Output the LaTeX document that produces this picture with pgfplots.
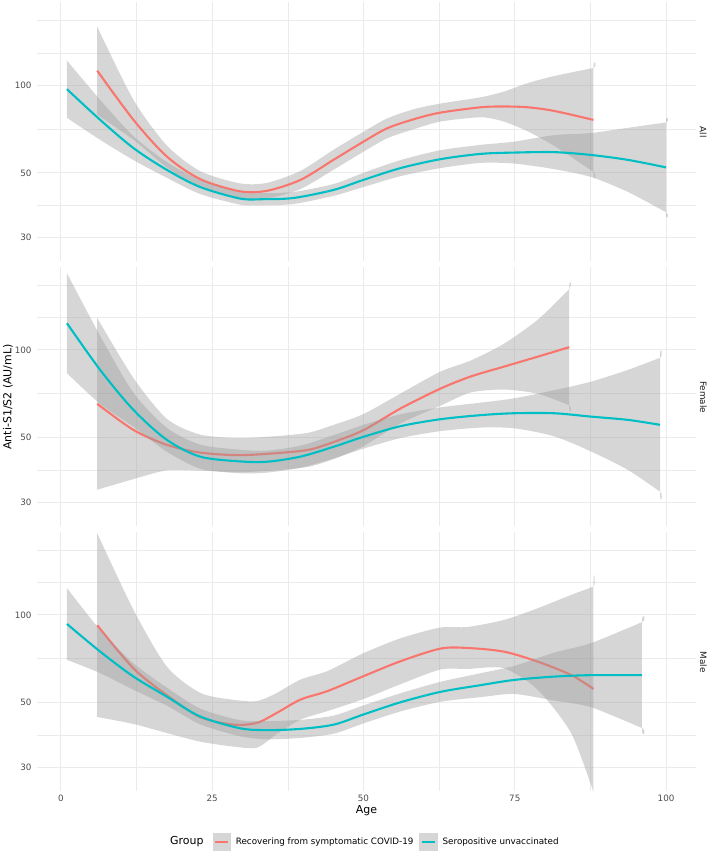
\documentclass[border=0pt]{standalone}
\usepackage{fontspec}
\setmainfont{DejaVu Sans}
\usepackage{pgfplots}
\usepackage{pgfplotstable}
\pgfplotsset{compat=1.18}
\definecolor{redc}{HTML}{F8766D}
\definecolor{tealc}{HTML}{00BFC4}
\definecolor{gridc}{HTML}{EBEBEB}
\definecolor{tickc}{HTML}{4D4D4D}
\definecolor{stripc}{HTML}{1A1A1A}
\definecolor{bandc}{HTML}{D6D6D6}
\definecolor{bandbase}{HTML}{999999}

% ---- fitted curves (age, fitted value) ----
\pgfplotstableread{
x y
1 96.9
6.5 76.0
12 60.8
17.5 51.2
23 44.7
29.6 40.8
33.5 40.6
38.5 41.0
45.1 43.7
50 47.3
56.1 51.9
62.7 55.7
69.4 58.1
74.9 58.7
81.5 58.9
87.6 57.6
93.7 55.4
100 52.2
}\allT
\pgfplotstableread{
x y
6 112.2
12 76.0
17.5 56.9
23 47.6
29.6 43.2
34.1 43.4
39.6 47.3
45.1 55.5
50 64.0
53.9 71.1
58.3 76.4
62.7 80.5
69.4 84.0
73.2 84.5
77.1 84.0
81.5 81.6
88 76.0
}\allR
\pgfplotstableread{
x y
1 123.5
6.5 85.3
12 62.2
17.5 49.1
23 43.0
29.6 41.4
34.1 41.3
39.6 43.0
45.1 46.5
50 50.3
56.1 54.7
62.7 57.8
69.4 59.7
74.9 60.6
81.5 60.6
87.6 59.0
93.7 57.5
99 55.3
}\femT
\pgfplotstableread{
x y
6 65.3
12 53.1
17.5 47.2
23 44.4
29.6 43.5
36.8 44.4
41.2 45.5
45.1 48.3
50 53.0
56.1 62.9
62.7 73.6
67.7 81.0
73.2 87.6
78.8 94.8
84 102.2
}\femR
\pgfplotstableread{
x y
1 93.1
6.5 74.8
12 61.4
17.5 52.4
23 44.8
29.6 40.8
34.1 40.2
39.6 40.6
45.1 42.0
50 45.5
56.1 50.1
62.7 54.4
69.4 57.4
74.9 59.8
81.5 61.4
87.6 62.1
96 62.1
}\malT
\pgfplotstableread{
x y
6 92.2
12 65.5
17.5 53.0
23 44.6
28.5 42.0
32.4 42.6
35.7 46.1
39.6 51.2
44 54.7
50 61.6
56.1 69.3
62.7 76.6
67.2 77.0
73.2 74.8
78.8 69.1
84.3 62.2
88 55.7
}\malR

% ---- 95% bands: upper bound left to right, then lower bound right to left ----
\pgfplotstableread{
x b
1 121.5
6.5 89.0
12 66.8
17.5 54.5
23 47.2
29.6 42.8
33.5 42.6
38.5 43.0
45.1 45.8
50 50.0
56.1 55.3
62.7 59.8
69.4 62.4
74.9 64.0
81.5 67.4
87.6 68.5
93.7 71.4
100 74.5
100 74.5
100 36.6
100 36.6
93.7 43.0
87.6 48.4
81.5 51.5
74.9 53.8
69.4 54.1
62.7 51.9
56.1 48.7
50 44.7
45.1 41.7
38.5 39.1
33.5 38.7
29.6 38.9
23 42.3
17.5 48.1
12 55.3
6.5 64.9
1 77.3
}\allTb
\pgfplotstableread{
x b
6 158.9
12 89.0
17.5 62.1
23 50.7
29.6 46.0
34.1 46.2
39.6 50.8
45.1 60.1
50 69.2
53.9 76.9
58.3 82.7
62.7 86.5
69.4 90.9
73.2 95.1
77.1 101.6
81.5 107.5
88 114.6
88 114.6
88 50.4
88 50.4
81.5 61.9
77.1 69.5
73.2 75.0
69.4 77.6
62.7 75.0
58.3 70.6
53.9 65.7
50 59.1
45.1 51.3
39.6 44.0
34.1 40.8
29.6 40.6
23 44.7
17.5 52.2
12 64.9
6 79.2
}\allRb
\pgfplotstableread{
x b
1 183.4
6.5 111.6
12 71.2
17.5 54.0
23 47.3
29.6 45.4
34.1 45.1
39.6 46.9
45.1 51.0
50 55.3
56.1 60.1
62.7 63.5
69.4 65.9
74.9 68.2
81.5 72.7
87.6 77.8
93.7 85.4
99 93.9
99 93.9
99 32.6
99 32.6
93.7 38.7
87.6 44.8
81.5 50.5
74.9 53.8
69.4 54.1
62.7 52.6
56.1 49.8
50 45.8
45.1 42.4
39.6 39.4
34.1 37.9
29.6 37.7
23 39.1
17.5 44.7
12 54.4
6.5 65.2
1 83.2
}\femTb
\pgfplotstableread{
x b
6 128.8
12 80.0
17.5 58.0
23 51.2
29.6 49.8
36.8 50.8
41.2 52.1
45.1 55.3
50 60.2
56.1 70.8
62.7 84.2
67.7 91.9
73.2 105.0
78.8 127.0
84 161.7
84 161.7
84 64.6
84 64.6
78.8 70.7
73.2 73.1
67.7 71.4
62.7 64.3
56.1 55.9
50 46.7
45.1 42.2
41.2 39.8
36.8 38.8
29.6 38.0
23 38.5
17.5 38.6
12 36.0
6 33.1
}\femRb
\pgfplotstableread{
x b
1 123.7
6.5 88.7
12 68.2
17.5 56.3
23 47.7
29.6 43.5
34.1 43.2
39.6 43.6
45.1 45.1
50 48.9
56.1 53.8
62.7 58.9
69.4 63.1
74.9 66.8
81.5 74.2
87.6 80.0
96 94.4
96 94.4
96 40.9
96 40.9
87.6 48.2
81.5 50.8
74.9 53.5
69.4 52.2
62.7 50.3
56.1 46.6
50 42.4
45.1 39.1
39.6 37.8
34.1 37.4
29.6 38.3
23 42.1
17.5 48.8
12 55.3
6.5 63.1
1 70.1
}\malTb
\pgfplotstableread{
x b
6 190.8
12 104.0
17.5 66.5
23 54.0
28.5 51.1
32.4 50.6
35.7 54.0
39.6 60.0
44 64.1
50 73.9
56.1 83.1
62.7 90.5
67.2 90.9
73.2 96.1
78.8 105.4
84.3 117.1
88 125.1
88 125.1
88 24.7
88 24.7
84.3 39.3
78.8 55.3
73.2 65.6
67.2 65.2
62.7 64.9
56.1 57.8
50 51.4
44 46.7
39.6 43.7
35.7 39.0
32.4 35.0
28.5 35.3
23 36.7
17.5 39.3
12 42.2
6 44.6
}\malRb

\pgfplotsset{
  facetaxis/.style={
    width=659bp, height=259bp, scale only axis,
    xmin=-3.95, xmax=104.95,
    ymin=24.8, ymax=192.4,
    xtick={0,25,50,75,100}, minor xtick={12.5,37.5,62.5,87.5},
    ytick={30,50,100,166.67}, yticklabels={30,50,100,},
    minor ytick={38.73,70.71,129.1},
    grid=both,
    major grid style={color=gridc, line width=1.07bp},
    minor grid style={color=gridc, line width=0.53bp},
    axis line style={draw=none},
    major tick length=0pt, minor tick length=0pt,
    tick style={draw=none},
    tick label style={font=\fontsize{8.8}{10}\selectfont, text=tickc},
    yticklabel style={anchor=east, inner sep=0pt, xshift=-5.3bp},
    xticklabel style={anchor=north, inner sep=0pt, yshift=-3.6bp},
    /pgf/number format/assume math mode=true,
  }
}

\newcommand{\smoothband}[3]{%
  \addplot[fill=bandbase, fill opacity=0.4, draw=none, smooth, tension=0.45, forget plot] table[x index=0, y index=1]{#2};
  \addplot[#3, line width=2.1bp, smooth, forget plot] table[x index=0, y index=1]{#1};
}

\begin{document}
\begin{tikzpicture}
\path[use as bounding box] (0,0) rectangle (709bp,-853bp);

\begin{semilogyaxis}[facetaxis, at={(37bp,-2.5bp)}, anchor=north west, xticklabels={}]
\smoothband{\allR}{\allRb}{redc}
\smoothband{\allT}{\allTb}{tealc}
\end{semilogyaxis}

\begin{semilogyaxis}[facetaxis, at={(37bp,-267.2bp)}, anchor=north west, xticklabels={}]
\smoothband{\femR}{\femRb}{redc}
\smoothband{\femT}{\femTb}{tealc}
\end{semilogyaxis}

\begin{semilogyaxis}[facetaxis, at={(37bp,-532.2bp)}, anchor=north west,
  legend columns=2,
  legend style={at={(0.2666,-0.196)}, anchor=west, draw=none, fill=none,
    inner sep=0pt, outer sep=0pt, font=\fontsize{8.8}{10}\selectfont,
    nodes={inner sep=0pt}, cells={anchor=west},
    /tikz/every odd column/.append style={column sep=5.5bp},
    /tikz/every even column/.append style={column sep=6bp}}]
\smoothband{\malR}{\malRb}{redc}
\smoothband{\malT}{\malTb}{tealc}
\addlegendimage{legend image code/.code={\fill[bandc] (0bp,-8.64bp) rectangle (17.28bp,8.64bp); \draw[redc, line width=2.1bp] (2.3bp,0bp) -- (15bp,0bp);}}
\addlegendentry{Recovering from symptomatic COVID-19}
\addlegendimage{legend image code/.code={\fill[bandc] (0bp,-8.64bp) rectangle (17.28bp,8.64bp); \draw[tealc, line width=2.1bp] (2.3bp,0bp) -- (15bp,0bp);}}
\addlegendentry{Seropositive unvaccinated}
\end{semilogyaxis}

\node[rotate=90, font=\fontsize{11}{13}\selectfont] at (8bp,-397bp) {Anti-S1/S2 (AU/mL)};
\node[font=\fontsize{11}{13}\selectfont] at (366.5bp,-811bp) {Age};
\node[anchor=east, font=\fontsize{11}{13}\selectfont] at (207bp,-842bp) {Group};
\node[rotate=-90, font=\fontsize{8.8}{10}\selectfont, text=stripc] at (703.3bp,-132bp) {All};
\node[rotate=-90, font=\fontsize{8.8}{10}\selectfont, text=stripc] at (703.3bp,-397bp) {Female};
\node[rotate=-90, font=\fontsize{8.8}{10}\selectfont, text=stripc] at (703.3bp,-662bp) {Male};
\end{tikzpicture}
\end{document}
